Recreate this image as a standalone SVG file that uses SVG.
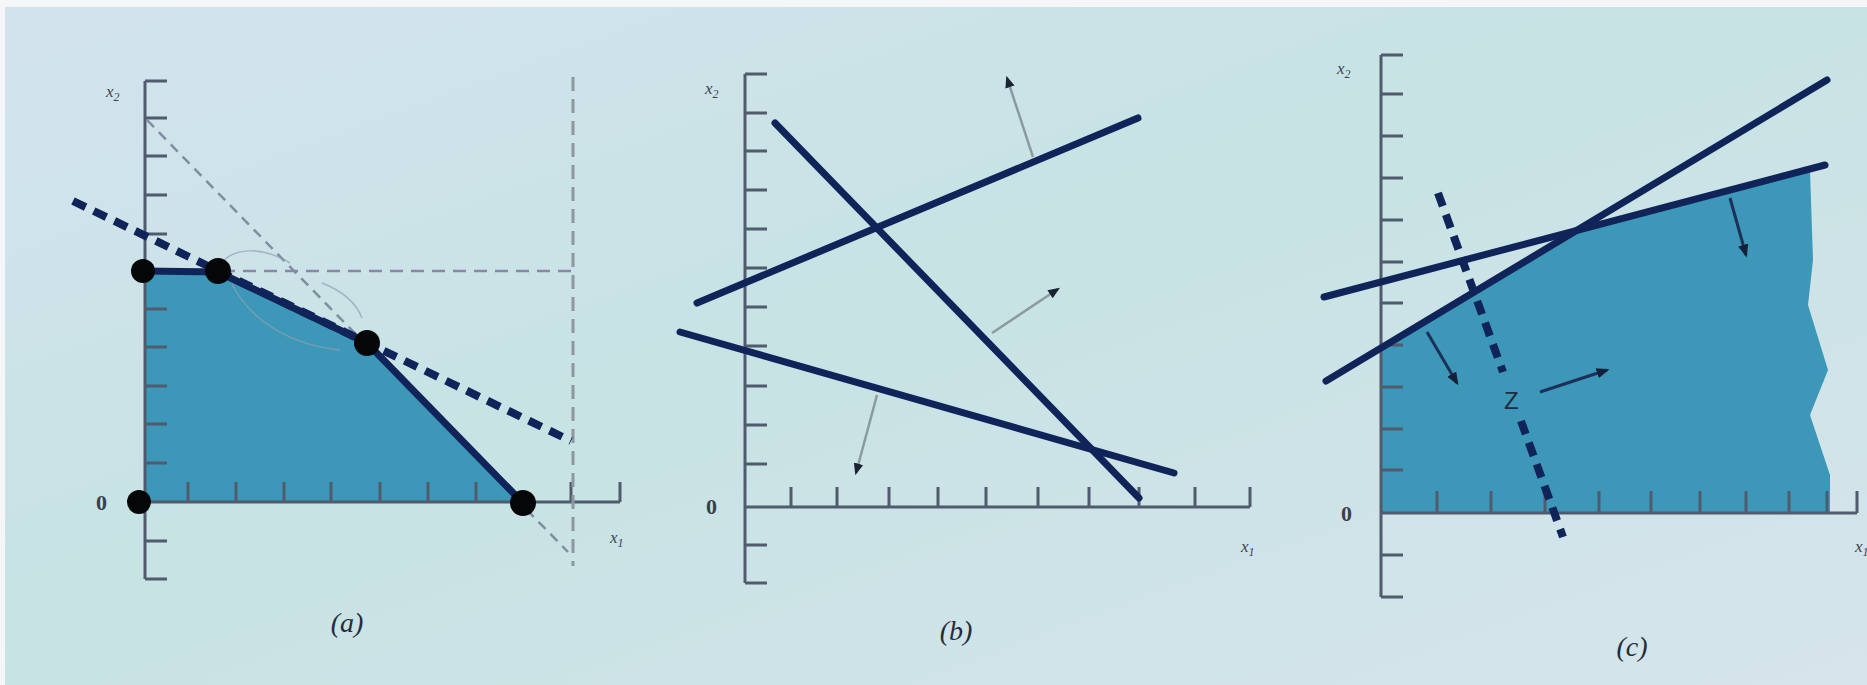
<svg xmlns="http://www.w3.org/2000/svg" width="1867" height="685" viewBox="0 0 1867 685">
<defs>
<linearGradient id="bg" x1="0" y1="0" x2="1" y2="1">
<stop offset="0" stop-color="#d3e3ee"/>
<stop offset="0.45" stop-color="#c7e3e4"/>
<stop offset="1" stop-color="#d6e4ec"/>
</linearGradient>
<marker id="grayhead" viewBox="0 0 10 10" refX="8" refY="5" markerWidth="12" markerHeight="12" markerUnits="userSpaceOnUse" orient="auto">
<path d="M0,1 L10,5 L0,9 Z" fill="#1c2333"/>
</marker>
<marker id="darkhead" viewBox="0 0 10 10" refX="8" refY="5" markerWidth="13" markerHeight="13" markerUnits="userSpaceOnUse" orient="auto">
<path d="M0,1 L10,5 L0,9 Z" fill="#14203a"/>
</marker>
<style>
.axis{fill:none;stroke:#515b6e;stroke-width:3}
.shade{fill:#3d97b8}
.thick{fill:none;stroke:#10245a;stroke-width:7;stroke-linecap:round;stroke-linejoin:round}
.thickdash{fill:none;stroke:#10245a;stroke-width:8;stroke-dasharray:14 9}
.thindash{fill:none;stroke:#7d8ea0;stroke-width:2.5;stroke-dasharray:10 7}
.hdash{fill:none;stroke:#8a88a6;stroke-width:2.5;stroke-dasharray:13 8}
.vdash{fill:none;stroke:#8e96a0;stroke-width:3;stroke-dasharray:14 8}
.faint{fill:none;stroke:#8d9fb0;stroke-width:1.5;opacity:0.7}
.grayarrow{fill:none;stroke:#8c9aa0;stroke-width:2.5;marker-end:url(#grayhead)}
.darkarrow{fill:none;stroke:#1d3058;stroke-width:3;marker-end:url(#darkhead)}
.dot{fill:#050608}
.var{font-family:"Liberation Serif",serif;font-style:italic;font-size:17px;fill:#3d4352}
.zero{font-family:"Liberation Serif",serif;font-weight:bold;font-size:22px;fill:#3a3f4c}
.cap{font-family:"Liberation Serif",serif;font-style:italic;font-size:28px;fill:#262c3a;text-anchor:middle}
.z{font-family:"Liberation Sans",sans-serif;font-size:24px;fill:#1e2c44}
</style>
</defs>
<rect x="0" y="0" width="1867" height="685" fill="#f4f6f8"/>
<rect x="5" y="7" width="1862" height="678" fill="url(#bg)"/>

<!-- Panel (a) -->
<g id="panel-a">
<polygon id="a-region" class="shade" points="145,271 218,272 367,343 523,503 145,503"/>
<g id="a-axes">
<path class="axis" d="M145,81 V579 M145,502 H620 M145,81 H167 M145,118 H167 M145,156 H167 M145,195 H167 M145,234 H167 M145,309 H167 M145,347 H167 M145,386 H167 M145,424 H167 M145,463 H167 M145,541 H167 M145,579 H167 M188,502 V482 M236,502 V482 M284,502 V482 M331,502 V482 M380,502 V482 M428,502 V482 M476,502 V482 M571,502 V482 M620,502 V482"/>
<text class="var" x="106" y="97">x<tspan font-size="12" dy="4">2</tspan></text>
<text class="zero" x="96" y="510">0</text>
<text class="var" x="610" y="543">x<tspan font-size="12" dy="4">1</tspan></text>
</g>
<g id="a-guides">
<path class="vdash" d="M573,77 V566"/>
<path class="hdash" d="M222,271 H573"/>
<path class="thindash" d="M147,120 L568,552"/>
<path class="faint" d="M222,262 C235,248 262,246 290,263"/>
<path class="faint" d="M322,283 C340,290 355,300 362,318"/>
<path class="faint" d="M232,284 C250,320 290,345 340,350"/>
</g>
<path id="a-objective" class="thickdash" d="M73,201 L571,441"/>
<path id="a-boundary" class="thick" d="M145,271 L218,272 L367,343 L523,503"/>
<g id="a-vertices">
<circle id="a-v1" class="dot" cx="143" cy="271" r="12"/>
<circle id="a-v2" class="dot" cx="218" cy="271" r="13"/>
<circle id="a-v3" class="dot" cx="367" cy="343" r="13"/>
<circle id="a-v4" class="dot" cx="523" cy="503" r="13"/>
<circle id="a-v0" class="dot" cx="139" cy="502" r="12"/>
</g>
<text class="cap" x="347" y="632">(a)</text>
</g>

<!-- Panel (b) -->
<g id="panel-b">
<g id="b-axes">
<path class="axis" d="M745,74 V583 M745,507 H1250 M745,74 H767 M745,113 H767 M745,151 H767 M745,190 H767 M745,229 H767 M745,268 H767 M745,307 H767 M745,346 H767 M745,386 H767 M745,425 H767 M745,464 H767 M745,545 H767 M745,583 H767 M791,507 V487 M837,507 V487 M889,507 V487 M938,507 V487 M986,507 V487 M1038,507 V487 M1089,507 V487 M1139,507 V487 M1195,507 V487 M1250,507 V487"/>
<text class="var" x="705" y="94">x<tspan font-size="12" dy="4">2</tspan></text>
<text class="zero" x="706" y="514">0</text>
<text class="var" x="1241" y="552">x<tspan font-size="12" dy="4">1</tspan></text>
</g>
<g id="b-constraints">
<path id="b-line1" class="thick" d="M697,303 L1138,118"/>
<path id="b-line2" class="thick" d="M775,123 L1139,498"/>
<path id="b-line3" class="thick" d="M680,332 L1174,473"/>
</g>
<text class="cap" x="956" y="640">(b)</text>
</g>

<!-- Panel (c) -->
<g id="panel-c">
<polygon id="c-region" class="shade" fill="#3f9cc2" points="1381,347 1585,228 1810,171 1813,260 1808,305 1828,370 1810,415 1830,475 1830,513 1381,513"/>
<g id="c-axes">
<path class="axis" d="M1381,55 V597 M1381,513 H1857 M1381,55 H1403 M1381,94 H1403 M1381,136 H1403 M1381,178 H1403 M1381,220 H1403 M1381,262 H1403 M1381,303 H1403 M1381,345 H1403 M1381,387 H1403 M1381,429 H1403 M1381,470 H1403 M1381,555 H1403 M1381,597 H1403 M1437,513 V491 M1491,513 V491 M1545,513 V491 M1599,513 V491 M1651,513 V491 M1700,513 V491 M1746,513 V491 M1789,513 V491 M1827,513 V491 M1857,513 V491"/>
<text class="var" x="1337" y="74">x<tspan font-size="12" dy="4">2</tspan></text>
<text class="zero" x="1341" y="521">0</text>
<text class="var" x="1855" y="552">x<tspan font-size="12" dy="4">1</tspan></text>
</g>
<g id="c-constraints">
<path id="c-lineA" class="thick" d="M1326,381 L1827,80"/>
<path id="c-lineB" class="thick" d="M1324,297 L1825,165"/>
</g>
<path id="c-objective-1" class="thickdash" d="M1438,193 L1503,372"/>
<path id="c-objective-2" class="thickdash" d="M1521,421 L1563,537"/>
<text id="c-z" class="z" x="1504" y="409">Z</text>
<text class="cap" x="1632" y="656">(c)</text>
</g>

<!-- Connectors -->
<g id="connectors">
<path class="grayarrow" d="M1033,157 L1007,78"/>
<path class="grayarrow" d="M992,333 L1058,289"/>
<path class="grayarrow" d="M877,395 L856,473"/>
<path class="darkarrow" d="M1427,332 L1457,383"/>
<path class="darkarrow" d="M1540,392 L1607,370"/>
<path class="darkarrow" d="M1730,198 L1746,255"/>
</g>
</svg>
